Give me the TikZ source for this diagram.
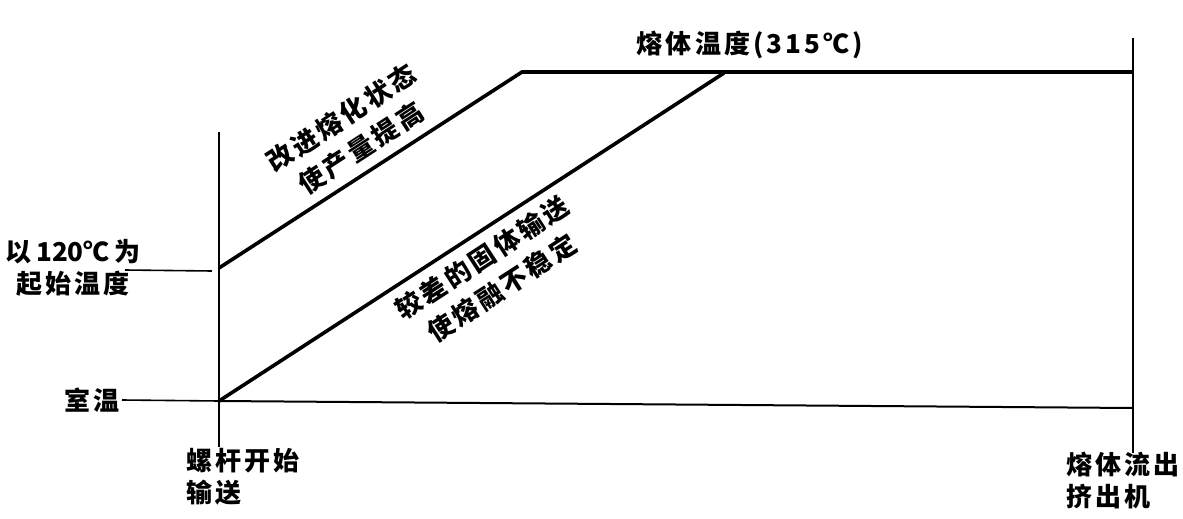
\documentclass[tikz,border=0pt]{standalone}
\usepackage{fontspec}
\newfontfamily\cjk{Noto Sans CJK SC}[LetterSpace=12]
\newfontfamily\cjkplain{Noto Sans CJK SC}
\usepackage{tikz}
\usetikzlibrary{positioning}

\begin{document}
\begin{tikzpicture}[x=0.5pt,y=-0.5pt]
\tikzstyle{axis}=[line width=1pt]
\tikzstyle{curve}=[line width=1.8pt]
\tikzstyle{tick}=[line width=0.8pt]
\tikzstyle{lbl}=[font=\cjk\bfseries\fontsize{13}{16}\selectfont, inner sep=0pt]
\tikzstyle{slant}=[lbl, font=\cjk\bfseries\fontsize{13}{18}\selectfont, rotate=33, align=center]
\useasboundingbox (0,0) rectangle (1183,519);

% axes and curve corners
\coordinate (a_top) at (219,132);
\coordinate (a_bot) at (219,447);
\coordinate (b_top) at (1133,38);
\coordinate (b_bot) at (1133,453);
\coordinate (s_hi) at (219,268);
\coordinate (s_lo) at (219,401);
\coordinate (k_hi) at (522,72);
\coordinate (k_lo) at (724,73);
\coordinate (m_end) at (1133,72);
\coordinate (r_end) at (1133,408);
\coordinate (t_hi) at (125,270);
\coordinate (t_hie) at (212,271);
\coordinate (t_lo) at (122,400);

\node[lbl, align=center] (start) at (73,268) {以{\cjkplain\,120℃\,}为\\起始温度};
\node[lbl] (room) at (92,400) {室温};
\node[lbl, align=left, anchor=north west] (feed) at (186,448) {螺杆开始\\输送};
\node[lbl, align=left, anchor=north west] (exit) at (1066,452) {熔体流出\\挤出机};
\node[lbl] (melt) at (750,45) {熔体温度(315℃)};
\node[slant] (good) at (351,133) {改进熔化状态\\使产量提高};
\node[slant] (poor) at (492,273) {较差的固体输送\\使熔融不稳定};

\path[axis]
	(a_top) edge (a_bot)
	(b_top) edge (b_bot)
	(s_lo) edge (r_end);
\path[tick]
	(t_hi) edge (t_hie)
	(t_lo) edge (s_lo);
\draw[curve] (s_hi) -- (k_hi) -- (m_end);
\draw[curve] (s_lo) -- (k_lo);

\end{tikzpicture}
\end{document}
